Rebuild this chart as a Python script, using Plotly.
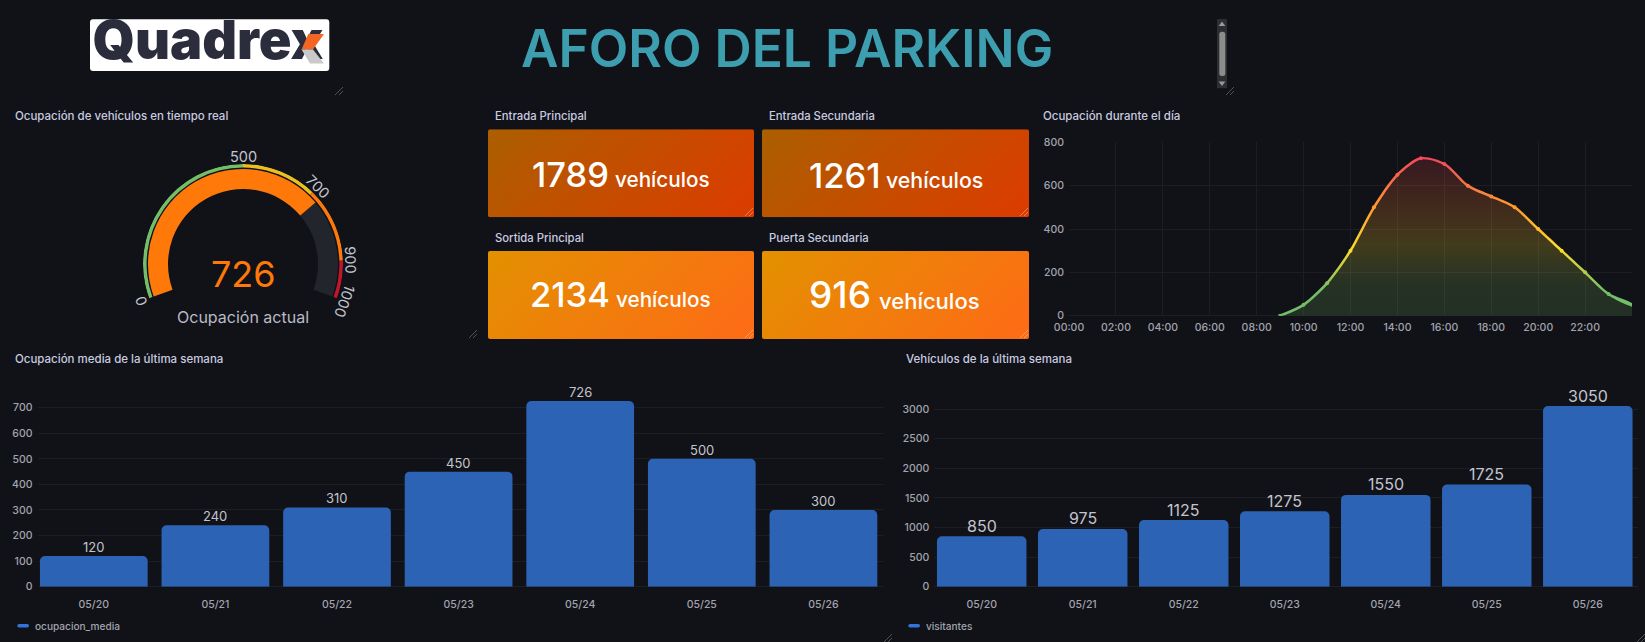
import base64
import math
import plotly.graph_objects as go

W, H = 1645, 642
BG = "#111217"
TXT = "#c9cbe0"
TICK = "#a3a4ae"
GRID = "#1d1e24"
BLUE = "#2c63b5"
FONT = "Inter"

# ---------- data ----------
days = ["05/20", "05/21", "05/22", "05/23", "05/24", "05/25", "05/26"]
ocupacion_media = [120, 240, 310, 450, 726, 500, 300]
visitantes = [850, 975, 1125, 1275, 1550, 1725, 3050]
hours = [9, 10, 11, 12, 13, 14, 15, 16, 17, 18, 19, 20, 21, 22, 23, 24]
ocupacion_dia = [0, 50, 150, 300, 500, 650, 726, 700, 600, 550, 500, 400, 300, 200, 100, 50]
hour_ticks = [0, 2, 4, 6, 8, 10, 12, 14, 16, 18, 20, 22]
hour_labels = ["00:00", "02:00", "04:00", "06:00", "08:00", "10:00", "12:00", "14:00", "16:00", "18:00", "20:00", "22:00"]
gauge_value = 726
gauge_max = 1000
gauge_thresholds = [0, 500, 700, 900, 1000]
gauge_colors = ["#73bf69", "#eac01e", "#ff780a", "#c4162a"]
gauge_ticks = [0, 500, 700, 900, 1000]
stat_titles = ["Entrada Principal", "Entrada Secundaria", "Sortida Principal", "Puerta Secundaria"]
stat_values = [1789, 1261, 2134, 916]
stat_unit = "vehículos"

# ---------- helpers ----------
def dom_x(a, b):
    return [a / W, b / W]

def dom_y(top, bottom):
    return [1 - bottom / H, 1 - top / H]

annotations, shapes, images = [], [], []

def ann(x, y, text, size, color=TXT, xanchor="center", yanchor="middle", angle=0, weight=400):
    annotations.append(dict(
        x=x, y=y, xref="x4", yref="y4", text=text, showarrow=False, xanchor=xanchor, yanchor=yanchor,
        textangle=angle, font=dict(family=FONT, size=size, color=color, weight=weight),
        borderpad=0, borderwidth=0))

def shp(path, fill=None, line=None, width=0, layer="above"):
    shapes.append(dict(type="path", path=path, xref="x4", yref="y4", layer=layer,
                       fillcolor=fill or "rgba(0,0,0,0)", line=dict(color=line or "rgba(0,0,0,0)", width=width)))

def rrect(x0, y0, x1, y1, r):
    return (f"M{x0+r},{y0} L{x1-r},{y0} Q{x1},{y0} {x1},{y0+r} L{x1},{y1-r} Q{x1},{y1} {x1-r},{y1} "
            f"L{x0+r},{y1} Q{x0},{y1} {x0},{y1-r} L{x0},{y0+r} Q{x0},{y0} {x0+r},{y0} Z")

def handle(x, y, color="#50525a"):
    shp(f"M{x-8},{y} L{x},{y-8} M{x-4},{y} L{x},{y-4}", line=color, width=1)

fig = go.Figure()

# ---------- gauge ----------
def angle_of(v):
    return v * 220 / gauge_max

fig.add_trace(go.Barpolar(theta=[angle_of(gauge_max / 2)], width=[angle_of(gauge_max)], base=[75], r=[20],
                          marker=dict(color="#22252b", line=dict(width=0)), hoverinfo="skip", showlegend=False))
fig.add_trace(go.Barpolar(theta=[angle_of(gauge_value / 2)], width=[angle_of(gauge_value)], base=[75], r=[20],
                          marker=dict(color="#ff780a", line=dict(width=0)), hoverinfo="skip", showlegend=False))
for lo, hi, c in zip(gauge_thresholds[:-1], gauge_thresholds[1:], gauge_colors):
    fig.add_trace(go.Barpolar(theta=[angle_of((lo + hi) / 2)], width=[angle_of(hi - lo)], base=[96.4], r=[3.6],
                              marker=dict(color=c, line=dict(width=0)), hoverinfo="skip", showlegend=False))

GCX, GCY, GR = 243, 264, 108
for t in gauge_ticks:
    a = angle_of(t) - 110
    ann(GCX + GR * math.sin(math.radians(a)), GCY - GR * math.cos(math.radians(a)), str(t), 14.5, "#c3c4cf", angle=a)
ann(GCX, 274, str(gauge_value), 36, "#ff780a")
ann(GCX, 317, "Ocupación actual", 16, "#b9bac5")

# ---------- line chart ----------
PXH = (1632 - 1069) / 24
PXU = (315.7 - 142.3) / 800
top_val = max(ocupacion_dia)
line_scale = [[0, "#73bf69"], [0.16, "#73bf69"], [0.42, "#fade2a"], [0.7, "#ff9830"], [1, "#f2495c"]]
fill_scale = [[0, "rgba(115,191,105,0.17)"], [0.2, "rgba(135,195,90,0.18)"], [0.45, "rgba(240,205,45,0.22)"],
              [0.72, "rgba(255,130,50,0.2)"], [1, "rgba(242,60,80,0.17)"]]
fig.add_trace(go.Scatter(x=hours, y=ocupacion_dia, mode="markers", xaxis="x", yaxis="y",
                         fill="tozeroy", line=dict(shape="spline", smoothing=0.8, width=0),
                         fillgradient=dict(type="vertical", colorscale=fill_scale, start=0, stop=top_val),
                         marker=dict(size=4, color=ocupacion_dia, cmin=0, cmax=top_val, colorscale=line_scale),
                         cliponaxis=True, hoverinfo="skip", showlegend=False))
# stroke with a value-coloured gradient: a thin ribbon around the same series
half = 1.25
up_x, up_y, dn_x, dn_y = [], [], [], []
for i, (hx, vy) in enumerate(zip(hours, ocupacion_dia)):
    a, b = max(i - 1, 0), min(i + 1, len(hours) - 1)
    tx = (hours[b] - hours[a]) * PXH
    ty = (ocupacion_dia[b] - ocupacion_dia[a]) * PXU
    n = math.hypot(tx, ty)
    nx, ny = -ty / n * half, tx / n * half
    up_x.append(hx + nx / PXH); up_y.append(vy + ny / PXU)
    dn_x.append(hx - nx / PXH); dn_y.append(vy - ny / PXU)
fig.add_trace(go.Scatter(x=up_x + dn_x[::-1], y=up_y + dn_y[::-1], mode="lines", xaxis="x", yaxis="y",
                         fill="toself", line=dict(shape="spline", smoothing=0.8, width=0),
                         fillgradient=dict(type="vertical", colorscale=line_scale, start=0, stop=top_val),
                         hoverinfo="skip", showlegend=False))

# ---------- bars ----------
fig.add_trace(go.Bar(x=days, y=ocupacion_media, marker=dict(color=BLUE, cornerradius=5, line=dict(width=0)),
                     xaxis="x2", yaxis="y2", hoverinfo="skip", showlegend=False))
fig.add_trace(go.Bar(x=days, y=visitantes, marker=dict(color=BLUE, cornerradius=5, line=dict(width=0)),
                     xaxis="x3", yaxis="y3", hoverinfo="skip", showlegend=False))
for xr, yr, vals, size, gap in [("x2", "y2", ocupacion_media, 13, 9), ("x3", "y3", visitantes, 16, 10.5)]:
    for d, v in zip(days, vals):
        annotations.append(dict(x=d, y=v, xref=xr, yref=yr, yshift=gap, text=str(v), showarrow=False, yanchor="middle",
                                font=dict(family=FONT, size=size, color="#c3c4cf")))

# ---------- logo (real text under the coloured arms of the x) ----------
shp(rrect(90, 19.3, 329.3, 71, 3), fill="#ffffff", layer="below")
fig.add_trace(go.Scatter(x=[208], y=[45], mode="text", text=["Quadrex"], xaxis="x4", yaxis="y4", textposition="middle center",
                         textfont=dict(family=FONT, size=54, color="#2b2d3d", weight=900), hoverinfo="skip", showlegend=False))
shp("M308.3,34 L324,34 L313,49.5 L301.5,49.5 Z", fill="#f26522")
shp("M301.5,49.5 L313,49.5 L324,63.5 L310,63.5 Z", fill="#c9c9c9")

# ---------- header ----------
ann(786.5, 47.5, "AFORO DEL PARKING", 51.5, "#3d9eb0", weight=600)

# scrollbar widget
shp(rrect(1217, 19, 1227, 88.3, 0.5), fill="#2d2e33")
shp(rrect(1219.3, 31.7, 1225.3, 76, 2.5), fill="#8c8c8c")
shp("M1222,21.5 L1225.3,26 L1218.7,26 Z", fill="#9a9a9a")
shp("M1222,86 L1225.3,81.5 L1218.7,81.5 Z", fill="#9a9a9a")

# ---------- stat cards ----------
def grad_svg(c0, c1, w, h):
    svg = (f'<svg xmlns="http://www.w3.org/2000/svg" width="{w}" height="{h}" viewBox="0 0 {w} {h}">'
           f'<defs><linearGradient id="g" gradientUnits="userSpaceOnUse" x1="{w/2-90}" y1="{h/2-90}" x2="{w/2+90}" y2="{h/2+90}">'
           f'<stop offset="0" stop-color="{c0}"/><stop offset="1" stop-color="{c1}"/></linearGradient></defs>'
           f'<rect width="{w}" height="{h}" rx="2" fill="url(#g)"/></svg>')
    return "data:image/svg+xml;base64," + base64.b64encode(svg.encode()).decode()

cards = [
    (488, 129.3, 754, 217.3, "#ab5f00", "#dd3b00", 609, 615, 186.7, 34.5, 20.7),
    (762, 129.3, 1029, 217.3, "#ab5f00", "#dd3b00", 881, 886, 187.5, 34.5, 21.3),
    (488, 251, 754, 339, "#e29100", "#ff6a17", 610, 616, 306.7, 34.5, 20.7),
    (762, 251, 1029, 339, "#e29100", "#ff6a17", 871, 878.5, 308, 37, 22),
]
for (x0, y0, x1, y1, c0, c1, xn, xu, base, fn, fu), title, val in zip(cards, stat_titles, stat_values):
    images.append(dict(source=grad_svg(c0, c1, int(x1 - x0), int(y1 - y0)), xref="x4", yref="y4", x=x0, y=y0,
                       sizex=x1 - x0, sizey=y1 - y0, sizing="stretch", xanchor="left", yanchor="top", layer="below"))
    ann(x0 + 6.7, y0 - 13.3, title, 11.3, TXT, xanchor="left", weight=500)
    ann(xn, base + fn * 0.25, str(val), fn, "#ffffff", xanchor="right", yanchor="bottom", weight=500)
    ann(xu, base + fu * 0.25, stat_unit, fu, "#ffffff", xanchor="left", yanchor="bottom", weight=500)

# ---------- panel titles / legends ----------
ann(14.5, 116, "Ocupación de vehículos en tiempo real", 11.5, TXT, xanchor="left", weight=500)
ann(1043, 116, "Ocupación durante el día", 11.5, TXT, xanchor="left", weight=500)
ann(14.5, 359, "Ocupación media de la última semana", 11.5, TXT, xanchor="left", weight=500)
ann(906, 359, "Vehículos de la última semana", 11.5, TXT, xanchor="left", weight=500)
for sx, tx, name in [(17.3, 35, "ocupacion_media"), (908.3, 926.3, "visitantes")]:
    shp(rrect(sx, 624, sx + 11.7, 627.5, 1.7), fill="#3274d9")
    ann(tx, 625.7, name, 10.1, TICK, xanchor="left", weight=500)

# resize handles
for hx, hy in [(343, 95), (1234, 95), (477, 338), (892, 642), (1645, 642)]:
    handle(hx, hy)
for hx, hy in [(753, 216), (1028, 216), (753, 338), (1028, 338)]:
    handle(hx, hy, "rgba(255,255,255,0.35)")

# ---------- layout ----------
tickfont = dict(family=FONT, size=10.5, color=TICK, weight=500)
def xax(a, b, **kw):
    return dict(domain=dom_x(a, b), showgrid=False, zeroline=False, showline=False, ticks="", tickfont=tickfont,
                fixedrange=True, automargin=False, ticklabelstandoff=10, **kw)
def yax(top, bottom, rng, vals):
    return dict(domain=dom_y(top, bottom), range=rng, tickvals=vals, gridcolor=GRID, gridwidth=1, zeroline=True,
                zerolinecolor=GRID, zerolinewidth=1, showline=False, ticks="", tickfont=tickfont, fixedrange=True,
                automargin=False, ticklabelstandoff=4)

fig.update_layout(
    template="none",
    width=W, height=H, autosize=False, margin=dict(l=0, r=0, t=0, b=0, pad=0),
    paper_bgcolor=BG, plot_bgcolor="rgba(0,0,0,0)", showlegend=False, font=dict(family=FONT, color=TXT),
    barmode="group", bargap=0.114,
    xaxis=dict(domain=dom_x(1069, 1632), range=[0, 24], tickvals=hour_ticks, ticktext=hour_labels, gridcolor=GRID,
               zeroline=False, showline=False, ticks="", tickfont=tickfont, fixedrange=True, automargin=False,
               ticklabelstandoff=4),
    yaxis=yax(142.3, 315.7, [0, 800], [0, 200, 400, 600, 800]),
    xaxis2=xax(37.5, 884.2, anchor="y2", range=[-0.5 + 4.5 / 121.6, 6.5]),
    yaxis2=dict(yax(380, 586.7, [0, 206.7 / 0.2557], [0, 100, 200, 300, 400, 500, 600, 700]), anchor="x2"),
    xaxis3=xax(934.3, 1638.3, anchor="y3", range=[-0.5 + 3.1 / 101, 6.5]),
    yaxis3=dict(yax(380, 586.7, [0, 206.7 / 0.05923], [0, 500, 1000, 1500, 2000, 2500, 3000]), anchor="x3"),
    xaxis4=dict(domain=[0, 1], range=[0, W], visible=False, anchor="y4", fixedrange=True, automargin=False),
    yaxis4=dict(domain=[0, 1], range=[H, 0], visible=False, anchor="x4", fixedrange=True, automargin=False),
    polar=dict(
        domain=dict(x=dom_x(GCX - 100, GCX + 100), y=dom_y(GCY - 100, GCY + 100)),
        bgcolor="rgba(0,0,0,0)", barmode="overlay", bargap=0,
        radialaxis=dict(range=[0, 100], visible=False),
        angularaxis=dict(visible=False, rotation=200, direction="clockwise", thetaunit="degrees"),
    ),
    annotations=annotations, shapes=shapes, images=images,
)

fig.write_html("out.html", config=dict(displayModeBar=False, responsive=False),
               post_script="document.body.style.margin='0';document.body.style.overflow='hidden';")
